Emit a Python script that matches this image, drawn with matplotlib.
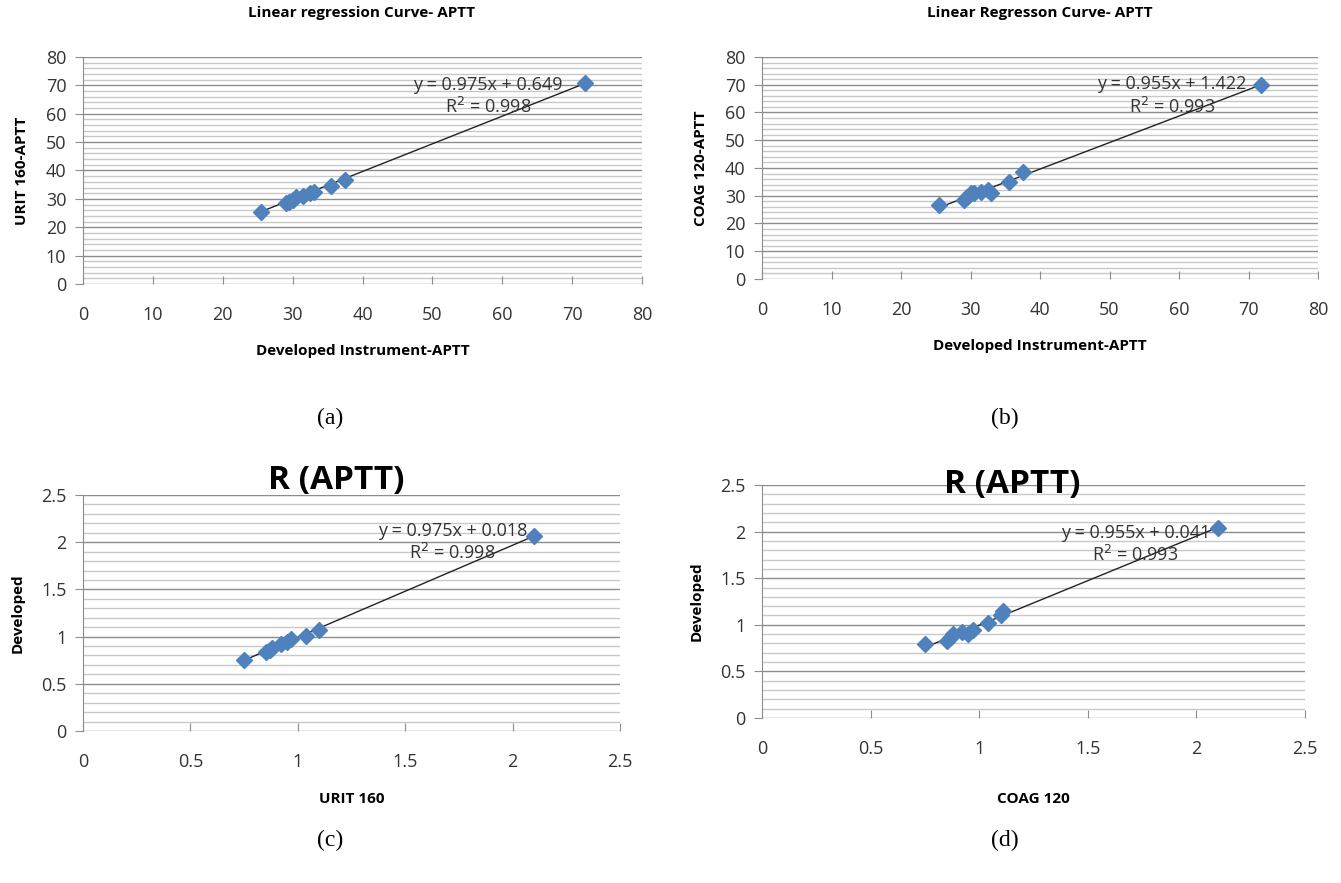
import numpy as np
import matplotlib
matplotlib.use('Agg')
from matplotlib import pyplot as plt

# panel (a)/(b): APTT seconds
dev_aptt = [25.5, 29.0, 29.5, 30.0, 30.5, 31.5, 32.5, 33.0, 35.5, 37.5, 71.8]
urit_aptt = [25.5, 28.5, 29.0, 29.5, 30.5, 31.0, 32.0, 32.5, 34.5, 36.5, 71.0]
coag_aptt = [26.5, 28.5, 29.5, 31.0, 31.0, 31.5, 32.0, 31.0, 35.0, 38.5, 70.0]

# panel (c)/(d): ratio R
urit_r = [0.75, 0.85, 0.87, 0.88, 0.92, 0.95, 0.97, 1.04, 1.10, 2.10]
dev_r_c = [0.75, 0.84, 0.86, 0.88, 0.92, 0.94, 0.97, 1.01, 1.07, 2.07]
coag_r = [0.75, 0.85, 0.87, 0.88, 0.92, 0.95, 0.97, 1.04, 1.10, 1.11, 2.10]
dev_r_d = [0.79, 0.83, 0.87, 0.90, 0.92, 0.90, 0.94, 1.02, 1.11, 1.15, 2.04]

W, H = 1341, 883
fig = plt.figure(figsize=(W / 100, H / 100), dpi=100)

font = 'Open Sans'
marker_col = '#4f81bd'


def make_axes(l, r, t, b):
    return fig.add_axes([l / W, 1 - b / H, (r - l) / W, (b - t) / H])


def panel(ax, x, y, slope, icpt, r2, lim, major, minor, xlabel, ylabel, eq_xy, xpad):
    ax.set_xlim(0, lim)
    ax.set_ylim(0, lim)
    for v in np.arange(minor, lim + minor / 2, minor):
        is_major = abs(v / major - round(v / major)) < 1e-6
        ax.axhline(v, color='#8c8c8c' if is_major else '#c8c8c8', lw=1.0, zorder=0)
    ax.axhline(0, color='#8c8c8c', lw=1.0, zorder=1)
    for s in ['top', 'right', 'bottom']:
        ax.spines[s].set_visible(False)
    ax.spines['left'].set_color('#8c8c8c')
    ticks = np.arange(0, lim + major / 2, major)
    ax.set_xticks(ticks)
    ax.set_yticks(ticks)
    ax.set_xticklabels(['%g' % v for v in ticks])
    ax.set_yticklabels(['%g' % v for v in ticks])
    ax.tick_params(axis='x', direction='in', length=6, color='#8c8c8c', pad=16,
                   labelsize=13, labelcolor='#333333')
    ax.tick_params(axis='y', direction='out', length=6, color='#8c8c8c', pad=6,
                   labelsize=13, labelcolor='#333333')
    for lab in ax.get_xticklabels() + ax.get_yticklabels():
        lab.set_family(font)
    ax.plot(x, y, 'D', color=marker_col, ms=8.5, zorder=3)
    xs = np.array([min(x), max(x)])
    ax.plot(xs, slope * xs + icpt, color='#222222', lw=1.0, zorder=2)
    ax.text(eq_xy[0], eq_xy[1], 'y = %.3fx + %.3f\nR$^2$ = %.3f' % (slope, icpt, r2),
            ha='center', va='center', fontsize=13, family=font, color='#333333',
            linespacing=1.2, zorder=4)
    ax.set_xlabel(xlabel, fontsize=11, fontweight='bold', family=font, labelpad=xpad)
    ax.set_ylabel(ylabel, fontsize=11, fontweight='bold', family=font, labelpad=12)


ax_a = make_axes(83, 642, 57, 284)
panel(ax_a, dev_aptt, urit_aptt, 0.975, 0.649, 0.998, 80, 10, 2,
      'Developed Instrument-APTT', 'URIT 160-APTT', (58, 66), 14)

ax_b = make_axes(762, 1318, 57, 279)
panel(ax_b, dev_aptt, coag_aptt, 0.955, 1.422, 0.993, 80, 10, 2,
      'Developed Instrument-APTT', 'COAG 120-APTT', (59, 66), 14)

ax_c = make_axes(83, 620, 495, 731)
panel(ax_c, urit_r, dev_r_c, 0.975, 0.018, 0.998, 2.5, 0.5, 0.1,
      'URIT 160', 'Developed', (1.72, 2.0), 15)

ax_d = make_axes(762, 1305, 485, 718)
panel(ax_d, coag_r, dev_r_d, 0.955, 0.041, 0.993, 2.5, 0.5, 0.1,
      'COAG 120', 'Developed', (1.72, 1.86), 24)

titles = [('Linear regression Curve- APTT', 362, 13, 11),
          ('Linear Regresson Curve- APTT', 1040, 13, 11),
          ('R (APTT)', 336, 481, 24),
          ('R (APTT)', 1012, 484, 24)]
for txt, px, py, fs in titles:
    fig.text(px / W, 1 - py / H, txt, ha='center', va='center', fontsize=fs,
             fontweight='bold', family=font)

for lab, px, py in [('(a)', 330, 418), ('(b)', 1005, 418), ('(c)', 330, 840), ('(d)', 1005, 840)]:
    fig.text(px / W, 1 - py / H, lab, ha='center', va='center', fontsize=17,
             family='Liberation Serif')

plt.savefig('out.png', dpi=100)
